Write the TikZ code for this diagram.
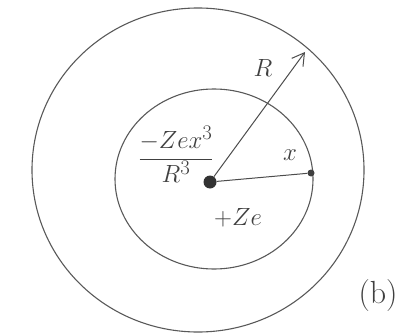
\documentclass[tikz,border=0pt]{standalone}
\usetikzlibrary{arrows.meta}
\begin{document}
\begin{tikzpicture}[x=1pt,y=-1pt,
  ring/.style={draw=black!65,line width=1.1pt},
  conn/.style={draw=black!70,line width=1pt},
  lbl/.style={text=black!75,font=\fontsize{32}{34}\selectfont,inner sep=0pt}]
\useasboundingbox (0,0) rectangle (419,334);
\draw[ring] (198,170) ellipse [x radius=166, y radius=162];
\draw[ring] (214,179) ellipse [x radius=99, y radius=90];
\node[circle,fill=black!80,minimum size=13pt,inner sep=0pt] (c) at (210,182) {};
\node[circle,fill=black!75,minimum size=7pt,inner sep=0pt] (e) at (311,173) {};
\coordinate (a) at (305,52);
\draw[conn] (c) -- (e);
\draw[conn,-{Straight Barb[length=12pt,width=14pt]}] (c) -- (a);
\node[lbl] (R) at (263,68) {$R$};
\node[lbl] (x) at (290,155) {$x$};
\node[lbl] (q) at (176,154) {$\displaystyle\frac{-Zex^{3}}{R^{3}}$};
\node[lbl] (p) at (238,218) {$+Ze$};
\node[lbl] (b) at (378,296) {(b)};
\end{tikzpicture}
\end{document}
